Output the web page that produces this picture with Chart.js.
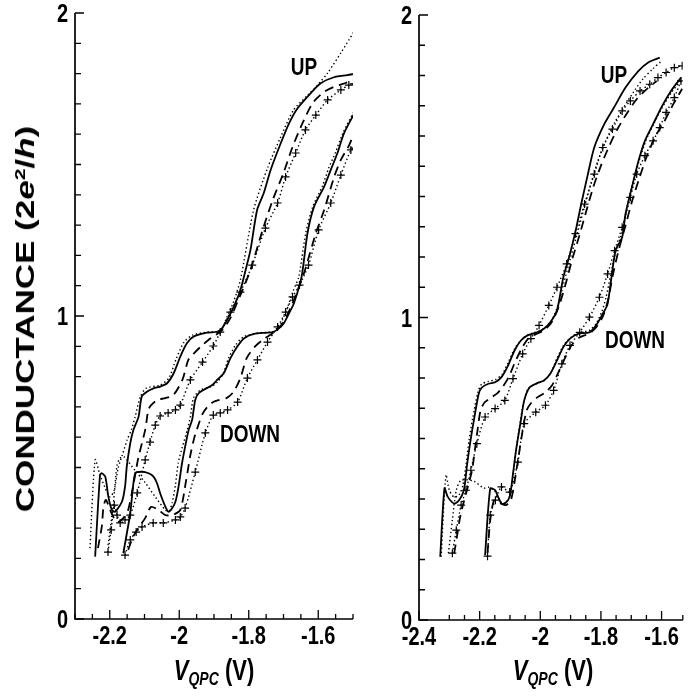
<!DOCTYPE html>
<html>
<head>
<meta charset="utf-8">
<script src="https://cdn.jsdelivr.net/npm/chart.js@4.4.0/dist/chart.umd.min.js"></script>
<style>
  html, body { margin: 0; padding: 0; background: #fff; }
  #wrap { position: relative; width: 688px; height: 697px; overflow: hidden;
          font-family: "Liberation Sans", Arial, sans-serif; font-weight: bold; color: #000; }
  canvas { position: absolute; top: 0; }
  #leftChart { left: 0; }
  #rightChart { left: 360px; }
  .note { position: absolute; font-size: 19px; line-height: 19px; transform: translate(-50%, -50%) scaleY(1.3); white-space: nowrap; }
  .xtitle { position: absolute; top: 671px; font-size: 22px; line-height: 24px; transform: translate(-50%, -50%) scaleY(1.3); white-space: nowrap; }
  .xtitle sub { font-size: 14px; line-height: 0; vertical-align: -4px; }
  .ytitle { position: absolute; left: 25px; top: 319px; font-size: 25px; line-height: 26px;
            transform: translate(-50%, -50%) rotate(-90deg) scaleX(1.4); white-space: nowrap; }
  .ytitle sup { font-size: 15px; line-height: 0; vertical-align: 9px; }
</style>
</head>
<body>
<div id="wrap">
  <canvas id="leftChart" width="360" height="697"></canvas>
  <canvas id="rightChart" width="328" height="697"></canvas>
  <div class="ytitle">CONDUCTANCE (2<i>e</i><sup>2</sup>/<i>h</i>)</div>
  <div class="xtitle" style="left:214px"><i>V</i><sub><i>QPC</i></sub> (V)</div>
  <div class="xtitle" style="left:553px"><i>V</i><sub><i>QPC</i></sub> (V)</div>
  <div class="note" style="left:304px; top:67px">UP</div>
  <div class="note" style="left:250px; top:434px">DOWN</div>
  <div class="note" style="left:614px; top:75px">UP</div>
  <div class="note" style="left:635px; top:340px">DOWN</div>
</div>
<script>
// axis ranges and labelled ticks
const leftXRange = [-2.3, -1.5];
const rightXRange = [-2.4, -1.53];
const leftXTicks = [-2.2, -2, -1.8, -1.6];
const rightXTicks = [-2.4, -2.2, -2, -1.8, -1.6];
const yTicks = [0, 1, 2];

// left panel, [V, G] pairs
const leftUpSolid = [[-2.242,0.206],[-2.228,0.475],[-2.223,0.481],[-2.213,0.470],[-2.204,0.404],[-2.194,0.360],[-2.185,0.354],[-2.165,0.387],[-2.156,0.437],[-2.151,0.503],[-2.141,0.580],[-2.132,0.624],[-2.117,0.668],[-2.108,0.734],[-2.093,0.750],[-2.074,0.761],[-2.055,0.767],[-2.035,0.778],[-2.016,0.811],[-1.997,0.866],[-1.978,0.910],[-1.959,0.932],[-1.920,0.945],[-1.891,0.948],[-1.877,0.959],[-1.862,0.987],[-1.843,1.031],[-1.824,1.086],[-1.809,1.152],[-1.795,1.218],[-1.776,1.350],[-1.757,1.405],[-1.737,1.482],[-1.708,1.570],[-1.684,1.636],[-1.660,1.685],[-1.622,1.735],[-1.593,1.768],[-1.555,1.788],[-1.516,1.795],[-1.497,1.799]];
const leftUpDotted = [[-2.257,0.234],[-2.242,0.525],[-2.228,0.475],[-2.213,0.432],[-2.199,0.403],[-2.187,0.426],[-2.176,0.498],[-2.164,0.541],[-2.150,0.591],[-2.138,0.624],[-2.127,0.667],[-2.112,0.733],[-2.095,0.762],[-2.055,0.772],[-2.030,0.795],[-2.008,0.861],[-1.986,0.914],[-1.962,0.937],[-1.919,0.947],[-1.882,0.950],[-1.864,0.993],[-1.844,1.046],[-1.824,1.119],[-1.786,1.350],[-1.746,1.488],[-1.708,1.591],[-1.671,1.680],[-1.630,1.729],[-1.602,1.762],[-1.573,1.802],[-1.535,1.868],[-1.498,1.937]];
const leftUpDashed = [[-2.234,0.234],[-2.223,0.304],[-2.218,0.370],[-2.211,0.393],[-2.199,0.360],[-2.185,0.327],[-2.176,0.320],[-2.161,0.333],[-2.147,0.360],[-2.133,0.436],[-2.118,0.531],[-2.098,0.624],[-2.089,0.690],[-2.081,0.706],[-2.063,0.723],[-2.040,0.729],[-2.017,0.739],[-1.991,0.789],[-1.974,0.855],[-1.959,0.875],[-1.939,0.898],[-1.916,0.921],[-1.896,0.937],[-1.876,0.954],[-1.853,0.993],[-1.830,1.053],[-1.812,1.102],[-1.795,1.152],[-1.760,1.284],[-1.731,1.383],[-1.700,1.472],[-1.674,1.558],[-1.645,1.637],[-1.616,1.703],[-1.584,1.739],[-1.555,1.756],[-1.521,1.769],[-1.498,1.779]];
const leftUpCross = [[-2.205,0.221],[-2.196,0.294],[-2.187,0.376],[-2.179,0.343],[-2.170,0.317],[-2.156,0.327],[-2.141,0.343],[-2.121,0.416],[-2.098,0.525],[-2.084,0.584],[-2.069,0.640],[-2.055,0.670],[-2.032,0.680],[-2.011,0.690],[-1.997,0.706],[-1.968,0.789],[-1.933,0.848],[-1.902,0.901],[-1.882,0.947],[-1.853,1.013],[-1.824,1.079],[-1.790,1.168],[-1.752,1.290],[-1.717,1.373],[-1.694,1.459],[-1.665,1.538],[-1.637,1.614],[-1.607,1.663],[-1.573,1.713],[-1.535,1.746],[-1.512,1.762],[-1.498,1.766]];
const leftDownSolid = [[-2.161,0.217],[-2.141,0.349],[-2.127,0.481],[-2.108,0.486],[-2.088,0.481],[-2.074,0.470],[-2.064,0.448],[-2.055,0.415],[-2.040,0.371],[-2.031,0.354],[-2.021,0.365],[-2.011,0.387],[-2.002,0.437],[-1.992,0.514],[-1.983,0.569],[-1.973,0.624],[-1.963,0.657],[-1.954,0.723],[-1.944,0.745],[-1.930,0.756],[-1.905,0.772],[-1.891,0.789],[-1.872,0.811],[-1.853,0.860],[-1.833,0.899],[-1.814,0.926],[-1.785,0.941],[-1.747,0.945],[-1.728,0.948],[-1.713,0.959],[-1.699,0.976],[-1.684,1.009],[-1.670,1.042],[-1.648,1.129],[-1.631,1.273],[-1.612,1.361],[-1.583,1.427],[-1.564,1.482],[-1.545,1.537],[-1.526,1.603],[-1.497,1.667]];
const leftDownDotted = [[-2.205,0.244],[-2.190,0.376],[-2.179,0.508],[-2.170,0.531],[-2.159,0.535],[-2.127,0.490],[-2.098,0.450],[-2.069,0.403],[-2.040,0.360],[-2.029,0.356],[-2.020,0.386],[-2.011,0.442],[-2.003,0.515],[-1.991,0.568],[-1.977,0.624],[-1.968,0.667],[-1.959,0.729],[-1.939,0.756],[-1.910,0.766],[-1.890,0.782],[-1.873,0.812],[-1.858,0.861],[-1.838,0.904],[-1.815,0.931],[-1.775,0.944],[-1.737,0.947],[-1.717,0.954],[-1.703,0.987],[-1.688,1.030],[-1.671,1.086],[-1.656,1.129],[-1.636,1.274],[-1.616,1.360],[-1.587,1.432],[-1.570,1.488],[-1.550,1.541],[-1.529,1.604],[-1.498,1.673]];
const leftDownDashed = [[-2.147,0.228],[-2.133,0.271],[-2.118,0.300],[-2.098,0.333],[-2.081,0.370],[-2.060,0.360],[-2.040,0.343],[-2.020,0.343],[-1.997,0.360],[-1.980,0.459],[-1.968,0.541],[-1.957,0.597],[-1.945,0.640],[-1.933,0.677],[-1.919,0.700],[-1.902,0.716],[-1.884,0.723],[-1.864,0.729],[-1.844,0.749],[-1.824,0.795],[-1.806,0.861],[-1.783,0.898],[-1.760,0.921],[-1.743,0.934],[-1.723,0.950],[-1.700,0.980],[-1.680,1.026],[-1.659,1.086],[-1.641,1.141],[-1.607,1.273],[-1.583,1.350],[-1.554,1.460],[-1.535,1.515],[-1.511,1.564],[-1.497,1.603]];
const leftDownCross = [[-2.156,0.211],[-2.141,0.261],[-2.124,0.287],[-2.107,0.304],[-2.075,0.317],[-2.046,0.317],[-2.011,0.327],[-1.997,0.337],[-1.983,0.366],[-1.954,0.485],[-1.925,0.614],[-1.902,0.673],[-1.882,0.680],[-1.861,0.690],[-1.832,0.716],[-1.804,0.795],[-1.775,0.855],[-1.746,0.914],[-1.717,0.964],[-1.694,1.013],[-1.674,1.063],[-1.654,1.102],[-1.628,1.168],[-1.599,1.284],[-1.564,1.373],[-1.535,1.465],[-1.506,1.548],[-1.498,1.554]];

// right panel, [V, G] pairs
const rightUpSolid = [[-2.330,0.209],[-2.316,0.435],[-2.305,0.407],[-2.284,0.385],[-2.268,0.396],[-2.252,0.429],[-2.241,0.517],[-2.230,0.594],[-2.219,0.660],[-2.203,0.748],[-2.193,0.768],[-2.171,0.781],[-2.149,0.786],[-2.128,0.803],[-2.106,0.842],[-2.085,0.891],[-2.064,0.924],[-2.042,0.941],[-2.010,0.951],[-1.988,0.963],[-1.967,0.984],[-1.945,1.023],[-1.924,1.133],[-1.902,1.210],[-1.881,1.298],[-1.865,1.375],[-1.843,1.474],[-1.822,1.562],[-1.789,1.639],[-1.757,1.694],[-1.719,1.760],[-1.676,1.815],[-1.644,1.843],[-1.606,1.859]];
const rightUpDotted = [[-2.327,0.209],[-2.311,0.479],[-2.300,0.429],[-2.284,0.406],[-2.268,0.413],[-2.255,0.446],[-2.245,0.512],[-2.235,0.594],[-2.223,0.667],[-2.206,0.752],[-2.194,0.779],[-2.171,0.789],[-2.148,0.795],[-2.126,0.812],[-2.106,0.851],[-2.084,0.898],[-2.061,0.927],[-2.039,0.944],[-2.006,0.954],[-1.984,0.967],[-1.961,0.993],[-1.942,1.040],[-1.923,1.112],[-1.900,1.198],[-1.877,1.281],[-1.855,1.363],[-1.832,1.446],[-1.810,1.518],[-1.784,1.584],[-1.755,1.644],[-1.726,1.693],[-1.694,1.743],[-1.661,1.789],[-1.629,1.822],[-1.600,1.848]];
const rightUpDashed = [[-2.284,0.220],[-2.274,0.281],[-2.265,0.337],[-2.255,0.380],[-2.242,0.429],[-2.225,0.495],[-2.216,0.561],[-2.206,0.634],[-2.197,0.693],[-2.184,0.719],[-2.161,0.736],[-2.142,0.749],[-2.123,0.772],[-2.103,0.805],[-2.084,0.851],[-2.061,0.898],[-2.039,0.931],[-2.010,0.947],[-1.984,0.960],[-1.961,0.987],[-1.939,1.036],[-1.916,1.112],[-1.894,1.195],[-1.871,1.271],[-1.848,1.353],[-1.826,1.429],[-1.800,1.502],[-1.774,1.564],[-1.745,1.624],[-1.713,1.677],[-1.681,1.723],[-1.648,1.756],[-1.616,1.782]];
const rightUpCross = [[-2.290,0.221],[-2.277,0.297],[-2.261,0.380],[-2.245,0.429],[-2.229,0.495],[-2.209,0.583],[-2.182,0.671],[-2.149,0.699],[-2.117,0.726],[-2.090,0.798],[-2.058,0.880],[-2.031,0.930],[-2.004,0.974],[-1.972,1.040],[-1.945,1.100],[-1.913,1.177],[-1.884,1.277],[-1.854,1.375],[-1.822,1.474],[-1.794,1.562],[-1.762,1.623],[-1.730,1.683],[-1.703,1.716],[-1.671,1.749],[-1.639,1.771],[-1.612,1.793],[-1.585,1.810],[-1.558,1.826],[-1.532,1.832]];
const rightDownSolid = [[-2.182,0.215],[-2.165,0.435],[-2.149,0.429],[-2.139,0.407],[-2.128,0.385],[-2.117,0.385],[-2.101,0.407],[-2.090,0.484],[-2.080,0.561],[-2.064,0.660],[-2.053,0.726],[-2.036,0.768],[-2.010,0.783],[-1.988,0.792],[-1.967,0.814],[-1.945,0.858],[-1.924,0.902],[-1.902,0.930],[-1.875,0.946],[-1.838,0.951],[-1.816,0.974],[-1.794,1.012],[-1.778,1.045],[-1.752,1.221],[-1.730,1.265],[-1.719,1.342],[-1.698,1.430],[-1.676,1.518],[-1.655,1.584],[-1.628,1.639],[-1.601,1.694],[-1.569,1.749],[-1.536,1.793]];
const rightDownDotted = [[-2.303,0.221],[-2.290,0.330],[-2.277,0.429],[-2.261,0.462],[-2.219,0.459],[-2.187,0.436],[-2.171,0.439],[-2.152,0.429],[-2.139,0.406],[-2.126,0.386],[-2.113,0.389],[-2.100,0.413],[-2.090,0.475],[-2.081,0.554],[-2.068,0.644],[-2.055,0.719],[-2.039,0.766],[-2.010,0.782],[-1.987,0.792],[-1.965,0.818],[-1.945,0.865],[-1.923,0.908],[-1.900,0.934],[-1.874,0.950],[-1.839,0.957],[-1.816,0.980],[-1.797,1.020],[-1.784,1.063],[-1.768,1.139],[-1.752,1.215],[-1.732,1.277],[-1.716,1.353],[-1.697,1.436],[-1.674,1.518],[-1.652,1.584],[-1.626,1.640],[-1.600,1.690],[-1.568,1.743],[-1.532,1.789]];
const rightDownDashed = [[-2.174,0.221],[-2.165,0.330],[-2.152,0.396],[-2.132,0.386],[-2.113,0.380],[-2.097,0.396],[-2.084,0.462],[-2.071,0.545],[-2.058,0.627],[-2.045,0.693],[-2.029,0.719],[-2.010,0.736],[-1.984,0.752],[-1.961,0.776],[-1.942,0.815],[-1.919,0.865],[-1.897,0.908],[-1.871,0.934],[-1.839,0.947],[-1.816,0.967],[-1.794,1.003],[-1.777,1.056],[-1.761,1.139],[-1.742,1.221],[-1.719,1.304],[-1.697,1.386],[-1.674,1.459],[-1.648,1.535],[-1.619,1.601],[-1.590,1.650],[-1.561,1.706],[-1.532,1.756]];
const rightDownCross = [[-2.174,0.211],[-2.165,0.347],[-2.148,0.396],[-2.128,0.440],[-2.101,0.423],[-2.074,0.522],[-2.053,0.649],[-2.015,0.687],[-1.983,0.710],[-1.956,0.759],[-1.929,0.847],[-1.902,0.908],[-1.870,0.951],[-1.838,1.001],[-1.805,1.067],[-1.778,1.144],[-1.755,1.221],[-1.730,1.298],[-1.703,1.397],[-1.682,1.474],[-1.655,1.535],[-1.628,1.584],[-1.606,1.628],[-1.585,1.678],[-1.558,1.727],[-1.536,1.782]];

const FONT = '"Liberation Sans", Arial, sans-serif';
const LABEL_SIZE = 20;
const STRETCH = 1.3; // the printed figure is taller than wide

const lineStyles = {
  solid: { borderDash: [], borderWidth: 1.8, pointRadius: 0 },
  dotted: { borderDash: [1.4, 2.6], borderWidth: 1.4, pointRadius: 0 },
  dashed: { borderDash: [9, 6], borderWidth: 1.8, pointRadius: 0 },
  cross: { borderDash: [1.4, 2.6], borderWidth: 1.4, pointRadius: 4, pointStyle: "cross", pointBorderWidth: 1.2 },
};

const toPoints = (pairs) => pairs.map(([x, y]) => ({ x, y }));

const isLabelled = (list, v) => list.some((t) => Math.abs(t - v) < 1e-6);

// axis lines, inward ticks and tick labels, placed with the chart's own scales
const axisTicks = {
  id: "axisTicks",
  afterDraw(chart, args, opts) {
    const { ctx, chartArea: a, scales } = chart;
    ctx.save();
    ctx.strokeStyle = "#000";
    ctx.lineWidth = 1.7;
    ctx.beginPath();
    ctx.moveTo(a.left, a.top);
    ctx.lineTo(a.left, a.bottom);
    ctx.lineTo(a.right, a.bottom);
    ctx.stroke();
    ctx.lineWidth = 1.3;
    ctx.beginPath();
    scales.x.ticks.forEach((t) => {
      const px = scales.x.getPixelForValue(t.value);
      const len = isLabelled(opts.xMajor, t.value) ? 9 : 5;
      ctx.moveTo(px, a.bottom);
      ctx.lineTo(px, a.bottom - len);
    });
    scales.y.ticks.forEach((t) => {
      const py = scales.y.getPixelForValue(t.value);
      const len = isLabelled(yTicks, t.value) ? 9 : 6;
      ctx.moveTo(a.left, py);
      ctx.lineTo(a.left + len, py);
    });
    ctx.stroke();

    ctx.fillStyle = "#000";
    ctx.font = `bold ${LABEL_SIZE}px ${FONT}`;
    ctx.textBaseline = "alphabetic";
    const half = 0.358 * LABEL_SIZE; // half the digit height
    const drawLabel = (text, x, yMid, align) => {
      ctx.save();
      ctx.translate(x, yMid);
      ctx.scale(1, STRETCH);
      ctx.textAlign = align;
      ctx.fillText(text, 0, half);
      ctx.restore();
    };
    opts.xMajor.forEach((v) => {
      drawLabel(String(v), scales.x.getPixelForValue(v), a.bottom + 16, "center");
    });
    yTicks.forEach((v) => {
      drawLabel(String(v), a.left - 7, scales.y.getPixelForValue(v), "right");
    });
    ctx.restore();
  },
};

function buildChart(id, series, xRange, xMajor, box) {
  const datasets = series.map(([data, style]) => ({
    data: toPoints(data),
    borderColor: "#000",
    backgroundColor: "#000",
    pointBorderColor: "#000",
    fill: false,
    tension: 0.25,
    ...lineStyles[style],
  }));

  return new Chart(document.getElementById(id), {
    type: "line",
    data: { datasets },
    plugins: [axisTicks],
    options: {
      responsive: false,
      animation: false,
      events: [],
      layout: { padding: { top: box.top, right: box.right, left: 0, bottom: 0 } },
      plugins: {
        legend: { display: false },
        tooltip: { enabled: false },
        axisTicks: { xMajor },
      },
      scales: {
        x: {
          type: "linear",
          min: xRange[0],
          max: xRange[1],
          afterFit: (s) => { s.height = box.xHeight; },
          grid: { display: false, drawTicks: false },
          border: { display: false },
          ticks: { stepSize: 0.05, autoSkip: false, display: false },
        },
        y: {
          min: 0,
          max: 2,
          afterFit: (s) => { s.width = box.yWidth; },
          grid: { display: false, drawTicks: false },
          border: { display: false },
          ticks: { stepSize: 0.1, autoSkip: false, display: false },
        },
      },
    },
  });
}

buildChart("leftChart", [
  [leftUpDotted, "dotted"], [leftUpSolid, "solid"], [leftUpDashed, "dashed"], [leftUpCross, "cross"],
  [leftDownDotted, "dotted"], [leftDownSolid, "solid"], [leftDownDashed, "dashed"], [leftDownCross, "cross"],
], leftXRange, leftXTicks, { top: 13, right: 7, xHeight: 78, yWidth: 75 });

buildChart("rightChart", [
  [rightUpDotted, "dotted"], [rightUpSolid, "solid"], [rightUpDashed, "dashed"], [rightUpCross, "cross"],
  [rightDownDotted, "dotted"], [rightDownSolid, "solid"], [rightDownDashed, "dashed"], [rightDownCross, "cross"],
], rightXRange, rightXTicks, { top: 15, right: 0, xHeight: 77, yWidth: 59 });
</script>
</body>
</html>
